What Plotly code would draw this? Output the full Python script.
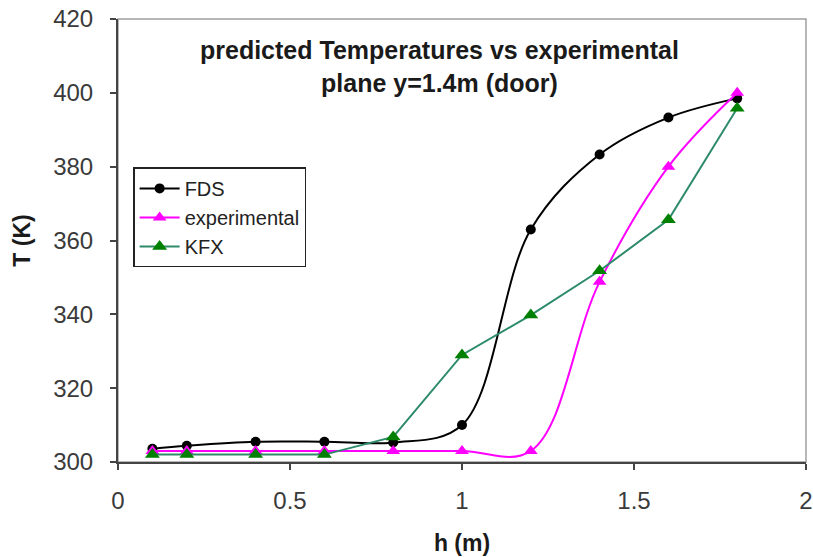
import plotly.graph_objects as go

h = [0.1, 0.2, 0.4, 0.6, 0.8, 1.0, 1.2, 1.4, 1.6, 1.8]
fds = [303.6, 304.4, 305.5, 305.5, 305.3, 310.0, 363.0, 383.3, 393.3, 398.5]
experimental = [303.0, 303.0, 303.0, 303.0, 303.0, 303.0, 303.0, 348.8, 380.0, 400.0]
kfx = [302.0, 302.0, 302.0, 302.0, 306.8, 329.0, 339.8, 351.8, 365.6, 395.8]

font = "Liberation Sans, Arial, sans-serif"

fig = go.Figure()
fig.add_trace(go.Scatter(
    x=h, y=fds, name="FDS", mode="lines+markers",
    line=dict(color="black", width=2, shape="spline", smoothing=1.0),
    marker=dict(symbol="circle", size=10, color="black")))
fig.add_trace(go.Scatter(
    x=h, y=experimental, name="experimental", mode="lines+markers",
    line=dict(color="#FF00FF", width=2, shape="spline", smoothing=1.05),
    marker=dict(symbol="triangle-up", size=12, color="#FF00FF")))
fig.add_trace(go.Scatter(
    x=h, y=kfx, name="KFX", mode="lines+markers",
    line=dict(color="#2E8B6A", width=2),
    marker=dict(symbol="triangle-up", size=13, color="#008000")))

fig.add_shape(type="rect", xref="paper", yref="paper", x0=0, y0=0, x1=1, y1=1,
              line=dict(color="#A0A0A0", width=1.5), layer="below")

fig.add_annotation(
    text="<b>predicted Temperatures vs experimental<br>plane y=1.4m (door)</b>",
    xref="x", yref="y", x=0.935, y=416, showarrow=False, align="center",
    yanchor="top", font=dict(family=font, size=25, color="#1a1a1a"))

fig.update_layout(
    width=813, height=557,
    margin=dict(l=118, r=7, t=19, b=95, autoexpand=False),
    paper_bgcolor="white", plot_bgcolor="white",
    font=dict(family=font, size=24, color="#3a3a3a"),
    showlegend=True,
    legend=dict(x=0.022, y=0.665, xanchor="left", yanchor="top",
                bgcolor="white", bordercolor="#222222", borderwidth=1.5,
                font=dict(family=font, size=20, color="#222222"),
                tracegroupgap=0, itemwidth=40),
)
fig.update_xaxes(
    range=[0, 2], tickvals=[0, 0.5, 1, 1.5, 2], ticktext=["0", "0.5", "1", "1.5", "2"],
    showgrid=False, zeroline=False, showline=True, linecolor="#444444", linewidth=2,
    ticks="outside", ticklen=6, tickcolor="#444444", tickwidth=2, ticklabelstandoff=10,
    automargin=False,
    title=dict(text="<b>h (m)</b>", font=dict(family=font, size=23, color="#1a1a1a"), standoff=22))
fig.update_yaxes(
    range=[300, 420], tickvals=[300, 320, 340, 360, 380, 400, 420],
    showgrid=False, zeroline=False, showline=True, linecolor="#444444", linewidth=2,
    ticks="outside", ticklen=6, tickcolor="#444444", tickwidth=2, ticklabelstandoff=12,
    automargin=False,
    title=dict(text="<b>T (K)</b>", font=dict(family=font, size=23, color="#1a1a1a"), standoff=16))

fig.write_html("out.html")
